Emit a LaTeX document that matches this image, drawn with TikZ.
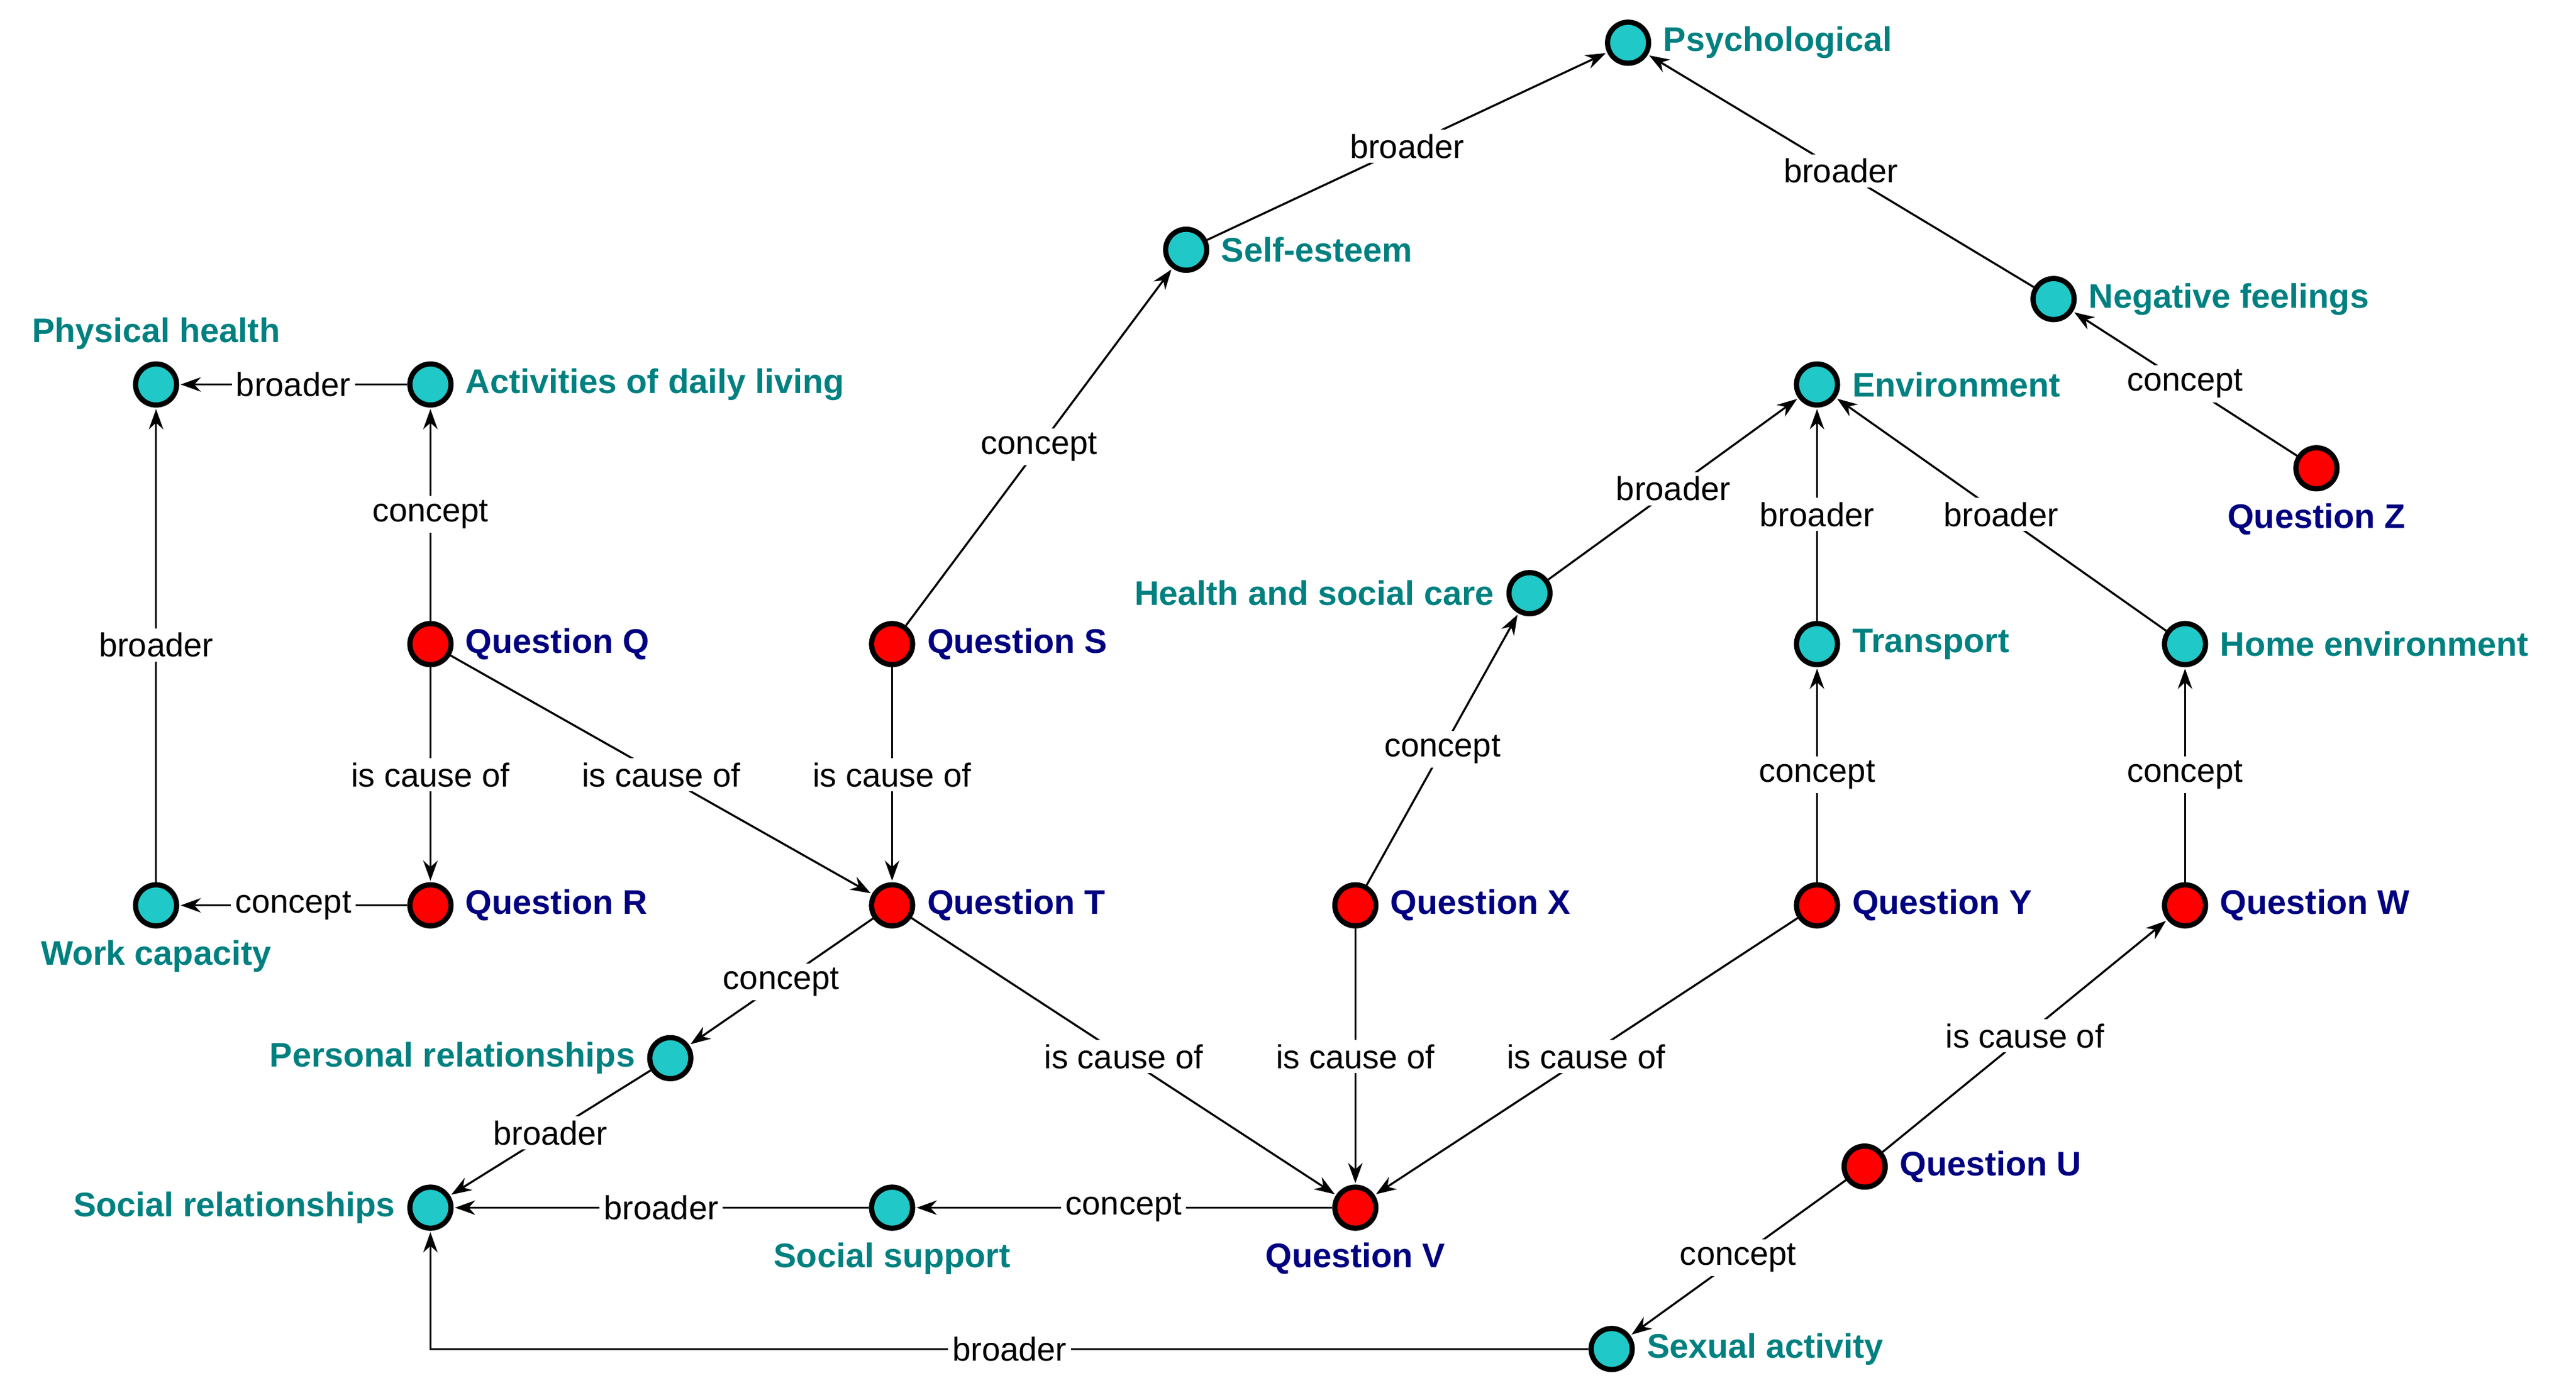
\documentclass[tikz,border=0pt]{standalone}
\usepackage{fontspec}
\setmainfont{Liberation Sans}
\usetikzlibrary{arrows.meta}
\definecolor{cy}{RGB}{32,200,200}
\definecolor{tl}{RGB}{0,128,128}
\definecolor{nv}{RGB}{0,0,128}
\begin{document}
\begin{tikzpicture}[x=0.02cm,y=-0.02cm,
 c/.style={circle,draw=black,line width=1.8pt,fill=cy,minimum size=0.5cm,inner sep=0},
 q/.style={circle,draw=black,line width=1.8pt,fill=red,minimum size=0.5cm,inner sep=0},
 tlab/.style={text=tl,font=\bfseries\fontsize{11.8}{13}\selectfont,inner sep=2pt,label distance=2pt},
 qlab/.style={text=nv,font=\bfseries\fontsize{11.8}{13}\selectfont,inner sep=2pt,label distance=2pt},
 e/.style={-{Stealth[length=7pt,width=5pt]},line width=0.7pt,shorten >=0.5pt},
 el/.style={fill=white,font=\fontsize{11.5}{13}\selectfont,inner sep=1.5pt,text=black}]
\useasboundingbox (0,0) rectangle (1568,849);
\node[c,label={[tlab]right:Psychological}] (psy) at (991,26) {};
\node[c,label={[tlab]right:Self-esteem}] (se) at (722,152) {};
\node[c,label={[tlab]right:Negative feelings}] (nf) at (1250,182) {};
\node[c,label={[tlab]above:Physical health}] (ph) at (95,234) {};
\node[c,label={[tlab]right:Activities of daily living}] (adl) at (262,234) {};
\node[c,label={[tlab]right:Environment}] (env) at (1106,234) {};
\node[q,label={[qlab]below:Question Z}] (qz) at (1410,285) {};
\node[c,label={[tlab]left:Health and social care}] (hsc) at (931,361) {};
\node[q,label={[qlab]right:Question Q}] (qq) at (262,392) {};
\node[q,label={[qlab]right:Question S}] (qs) at (543,392) {};
\node[c,label={[tlab]right:Transport}] (tr) at (1106,392) {};
\node[c,label={[tlab]right:Home environment}] (he) at (1330,392) {};
\node[c,label={[tlab]below:Work capacity}] (wc) at (95,551) {};
\node[q,label={[qlab]right:Question R}] (qr) at (262,551) {};
\node[q,label={[qlab]right:Question T}] (qt) at (543,551) {};
\node[q,label={[qlab]right:Question X}] (qx) at (825,551) {};
\node[q,label={[qlab]right:Question Y}] (qy) at (1106,551) {};
\node[q,label={[qlab]right:Question W}] (qw) at (1330,551) {};
\node[c,label={[tlab]left:Personal relationships}] (pr) at (408,644) {};
\node[c,label={[tlab]left:Social relationships}] (sr) at (262,735) {};
\node[c,label={[tlab]below:Social support}] (ss) at (543,735) {};
\node[q,label={[qlab]below:Question V}] (qv) at (825,735) {};
\node[q,label={[qlab]right:Question U}] (qu) at (1135,710) {};
\node[c,label={[tlab]right:Sexual activity}] (sa) at (981,821) {};
\coordinate (corner) at (262,821);
\draw[e] (se) -- node[el]{broader} (psy);
\draw[e] (nf) -- node[el]{broader} (psy);
\draw[e] (qz) -- node[el]{concept} (nf);
\draw[e] (adl) -- node[el]{broader} (ph);
\draw[e] (qq) -- node[el]{concept} (adl);
\draw[e] (wc) -- node[el]{broader} (ph);
\draw[e] (qr) -- node[el]{concept} (wc);
\draw[e] (qq) -- node[el]{is cause of} (qr);
\draw[e] (qq) -- node[el]{is cause of} (qt);
\draw[e] (qs) -- node[el]{concept} (se);
\draw[e] (qs) -- node[el]{is cause of} (qt);
\draw[e] (hsc) -- node[el]{broader} (env);
\draw[e] (tr) -- node[el]{broader} (env);
\draw[e] (he) -- node[el]{broader} (env);
\draw[e] (qx) -- node[el]{concept} (hsc);
\draw[e] (qy) -- node[el]{concept} (tr);
\draw[e] (qw) -- node[el]{concept} (he);
\draw[e] (qt) -- node[el]{concept} (pr);
\draw[e] (qt) -- node[el]{is cause of} (qv);
\draw[e] (qx) -- node[el]{is cause of} (qv);
\draw[e] (qy) -- node[el]{is cause of} (qv);
\draw[e] (qu) -- node[el]{is cause of} (qw);
\draw[e] (pr) -- node[el]{broader} (sr);
\draw[e] (ss) -- node[el]{broader} (sr);
\draw[e] (qv) -- node[el]{concept} (ss);
\draw[e] (qu) -- node[el]{concept} (sa);
\draw[e] (sa) -- node[el,pos=0.5]{broader} (corner) -- (sr);
\end{tikzpicture}
\end{document}
